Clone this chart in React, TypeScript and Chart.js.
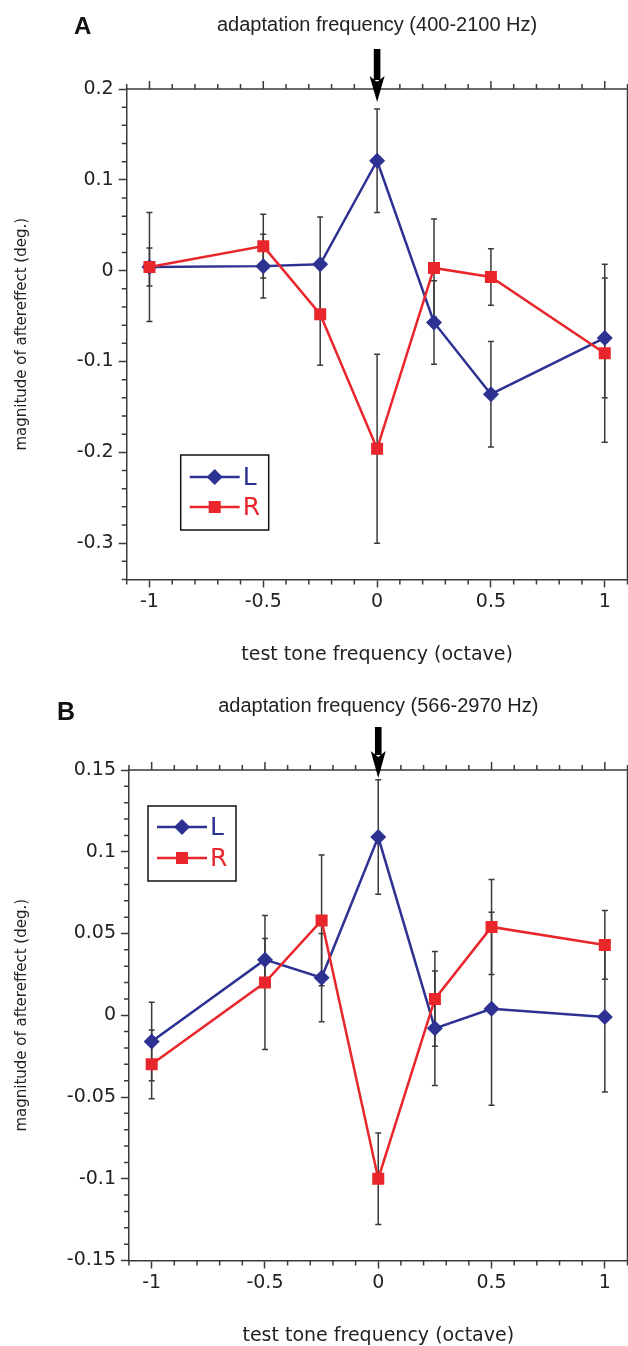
import React, { useEffect, useRef } from "react";
import { Chart, registerables } from "chart.js";

Chart.register(...registerables);

// ---------------- data ----------------
const testOctaves = [-1, -0.5, -0.25, 0, 0.25, 0.5, 1];
const xTickValues = [-1, -0.5, 0, 0.5, 1];
const seriesNames = ["L", "R"];
const xAxisLabel = "test tone frequency (octave)";
const yAxisLabel = "magnitude of aftereffect (deg.)";

const panelATitle = "adaptation frequency (400-2100 Hz)";
const panelALeft = [0.004, 0.005, 0.007, 0.121, -0.057, -0.136, -0.074];
const panelALeftErr = [0.06, 0.035, 0.052, 0.057, 0.046, 0.058, 0.066];
const panelARight = [0.004, 0.027, -0.048, -0.196, 0.003, -0.007, -0.091];
const panelARightErr = [0.021, 0.035, 0.056, 0.104, 0.054, 0.031, 0.098];
const panelAYTicks = [-0.3, -0.2, -0.1, 0, 0.1, 0.2];

const panelBTitle = "adaptation frequency (566-2970 Hz)";
const panelBLeft = [-0.016, 0.034, 0.023, 0.109, -0.008, 0.004, -0.001];
const panelBLeftErr = [0.024, 0.013, 0.027, 0.035, 0.035, 0.059, 0.046];
const panelBRight = [-0.03, 0.02, 0.058, -0.1, 0.01, 0.054, 0.043];
const panelBRightErr = [0.021, 0.041, 0.04, 0.028, 0.029, 0.029, 0.021];
const panelBYTicks = [-0.15, -0.1, -0.05, 0, 0.05, 0.1, 0.15];

// ---------------- styles ----------------
const BLUE = "#2c3192";
const RED = "#e8262b";
const AXIS = "#3a3a3a";
const TEXT = "#222";
const TICK_FONT = { family: "DejaVu Sans", size: 19 };
const CANVAS_W = 636;
const CANVAS_H = 670;

function drawMarker(ctx, style, x, y, r, color) {
  ctx.save();
  ctx.fillStyle = color;
  ctx.beginPath();
  if (style === "rectRot") {
    ctx.moveTo(x, y - r);
    ctx.lineTo(x + r, y);
    ctx.lineTo(x, y + r);
    ctx.lineTo(x - r, y);
    ctx.closePath();
  } else {
    const h = r * Math.SQRT1_2;
    ctx.rect(x - h, y - h, 2 * h, 2 * h);
  }
  ctx.fill();
  ctx.restore();
}

const decorPlugin = {
  id: "decor",
  beforeDatasetsDraw(chart, _args, opts) {
    const { ctx } = chart;
    const x = chart.scales.x;
    const y = chart.scales.y;
    ctx.save();
    ctx.strokeStyle = AXIS;
    ctx.lineWidth = 1.5;
    chart.data.datasets.forEach((ds, i) => {
      const errs = opts.errors[i];
      ds.data.forEach((pt, j) => {
        const px = x.getPixelForValue(pt.x);
        const y1 = y.getPixelForValue(pt.y + errs[j]);
        const y2 = y.getPixelForValue(pt.y - errs[j]);
        ctx.beginPath();
        ctx.moveTo(px, y1);
        ctx.lineTo(px, y2);
        ctx.moveTo(px - 3, y1);
        ctx.lineTo(px + 3, y1);
        ctx.moveTo(px - 3, y2);
        ctx.lineTo(px + 3, y2);
        ctx.stroke();
      });
    });
    ctx.restore();
  },
  afterDraw(chart, _args, opts) {
    const { ctx, chartArea: ca } = chart;
    const x = chart.scales.x;
    const y = chart.scales.y;
    ctx.save();
    ctx.strokeStyle = AXIS;
    ctx.lineWidth = 1.5;
    // top + right frame
    ctx.beginPath();
    ctx.moveTo(ca.left, ca.top);
    ctx.lineTo(ca.right, ca.top);
    ctx.lineTo(ca.right, ca.bottom);
    ctx.stroke();

    const isMajor = (v, majors) => majors.some((m) => Math.abs(m - v) < 1e-9);
    const xs = opts.xMinor;
    for (let i = Math.ceil(x.min / xs - 1e-9); i <= Math.floor(x.max / xs + 1e-9); i++) {
      const v = i * xs;
      const px = x.getPixelForValue(v);
      const major = isMajor(v, xTickValues);
      ctx.beginPath();
      if (!major) {
        ctx.moveTo(px, ca.bottom);
        ctx.lineTo(px, ca.bottom + 5);
      }
      ctx.moveTo(px, ca.top);
      ctx.lineTo(px, ca.top - (major ? 8 : 5));
      ctx.stroke();
    }
    const ys = opts.yMinor;
    for (let i = Math.ceil(y.min / ys - 1e-9); i <= Math.floor(y.max / ys + 1e-9); i++) {
      const v = i * ys;
      const py = y.getPixelForValue(v);
      const major = isMajor(v, opts.yMajor);
      ctx.beginPath();
      if (!major) {
        ctx.moveTo(ca.left, py);
        ctx.lineTo(ca.left - 5, py);
      }
      ctx.moveTo(ca.right, py);
      ctx.lineTo(ca.right + (major ? 8 : 5), py);
      ctx.stroke();
    }
    ctx.restore();

    // legend box
    const lg = opts.legend;
    const lx = ca.left + lg.dx;
    const ly = ca.top + lg.dy;
    ctx.save();
    ctx.fillStyle = "#fff";
    ctx.fillRect(lx, ly, lg.w, lg.h);
    ctx.strokeStyle = "#111";
    ctx.lineWidth = 1.5;
    ctx.strokeRect(lx, ly, lg.w, lg.h);
    chart.data.datasets.forEach((ds, i) => {
      const ry = ly + lg.rowTop + i * lg.rowGap;
      ctx.strokeStyle = ds.borderColor;
      ctx.lineWidth = 2.5;
      ctx.beginPath();
      ctx.moveTo(lx + 9, ry);
      ctx.lineTo(lx + 59, ry);
      ctx.stroke();
      drawMarker(ctx, ds.pointStyle, lx + 34, ry, ds.pointRadius, ds.borderColor);
      ctx.fillStyle = ds.borderColor;
      ctx.font = "25px 'DejaVu Sans'";
      ctx.textBaseline = "middle";
      ctx.textAlign = "left";
      ctx.fillText(ds.label, lx + 62, ry + 1);
    });
    ctx.restore();

    // arrow at adaptation frequency
    const ax = x.getPixelForValue(opts.arrowAt);
    const a = opts.arrow;
    ctx.save();
    ctx.fillStyle = "#000";
    ctx.fillRect(ax - 3.3, a.top, 6.6, a.headTop - a.top + 4);
    ctx.beginPath();
    ctx.moveTo(ax - 7.5, a.headTop);
    ctx.lineTo(ax, a.headTop + 6);
    ctx.lineTo(ax + 7.5, a.headTop);
    ctx.lineTo(ax, a.tip);
    ctx.closePath();
    ctx.fill();
    ctx.restore();
  },
};

function Panel({ title, left, leftErr, right, rightErr, yTicks, yMin, yMax, yMinor, yWidth, legend, arrow }) {
  const ref = useRef(null);
  useEffect(() => {
    const datasets = [
      {
        label: seriesNames[0],
        data: testOctaves.map((xv, i) => ({ x: xv, y: left[i] })),
        borderColor: BLUE,
        backgroundColor: BLUE,
        pointBackgroundColor: BLUE,
        pointBorderColor: BLUE,
        pointBorderWidth: 0,
        pointStyle: "rectRot",
        pointRadius: 8,
        borderWidth: 2.5,
        tension: 0,
        order: 1,
      },
      {
        label: seriesNames[1],
        data: testOctaves.map((xv, i) => ({ x: xv, y: right[i] })),
        borderColor: RED,
        backgroundColor: RED,
        pointBackgroundColor: RED,
        pointBorderColor: RED,
        pointBorderWidth: 0,
        pointStyle: "rect",
        pointRadius: 8.5,
        borderWidth: 2.5,
        tension: 0,
        order: 0,
      },
    ];
    const chart = new Chart(ref.current, {
      type: "line",
      data: { datasets },
      plugins: [decorPlugin],
      options: {
        animation: false,
        responsive: false,
        maintainAspectRatio: false,
        devicePixelRatio: 1,
        layout: { padding: { left: 0, right: 1, top: 0, bottom: 0 } },
        plugins: {
          legend: { display: false },
          tooltip: { enabled: false },
          title: {
            display: true,
            text: title,
            fullSize: false,
            color: TEXT,
            font: { family: "Liberation Sans", size: 20, weight: "normal", lineHeight: 1.2 },
            padding: { top: 13, bottom: 52 },
          },
          decor: {
            errors: [leftErr, rightErr],
            xMinor: 0.1,
            yMinor,
            yMajor: yTicks,
            legend,
            arrowAt: 0,
            arrow,
          },
        },
        scales: {
          x: {
            type: "linear",
            min: -1.1,
            max: 1.1,
            afterBuildTicks: (s) => {
              s.ticks = xTickValues.map((v) => ({ value: v }));
            },
            afterFit: (s) => {
              s.height = 90.5;
            },
            grid: { display: true, drawOnChartArea: false, drawTicks: true, tickLength: 8, tickColor: AXIS, tickWidth: 1.5 },
            border: { display: true, color: AXIS, width: 1.5 },
            ticks: { font: TICK_FONT, color: TEXT, padding: 3, maxRotation: 0, callback: (v) => String(v) },
            title: {
              display: true,
              text: xAxisLabel,
              color: TEXT,
              font: { family: "DejaVu Sans", size: 19, lineHeight: 1.2 },
              padding: { top: 0, bottom: 3.6 },
            },
          },
          y: {
            type: "linear",
            min: yMin,
            max: yMax,
            afterBuildTicks: (s) => {
              s.ticks = yTicks.map((v) => ({ value: v }));
            },
            afterFit: (s) => {
              s.width = yWidth;
            },
            grid: { display: true, drawOnChartArea: false, drawTicks: true, tickLength: 8, tickColor: AXIS, tickWidth: 1.5 },
            border: { display: true, color: AXIS, width: 1.5 },
            ticks: { font: TICK_FONT, color: TEXT, padding: 5, callback: (v) => String(v) },
            title: {
              display: true,
              text: yAxisLabel,
              color: TEXT,
              font: { family: "DejaVu Sans", size: 15, lineHeight: 1.2 },
              padding: { top: 13, bottom: 0 },
            },
          },
        },
      },
    });
    return () => chart.destroy();
  }, []);
  return <canvas ref={ref} width={CANVAS_W} height={CANVAS_H} style={{ display: "block" }} />;
}

export default function App() {
  return (
    <div
      style={{
        position: "absolute",
        top: 0,
        left: 0,
        width: 628,
        height: 1346,
        overflow: "hidden",
        background: "#fff",
      }}
    >
      <div style={{ position: "absolute", top: 0, left: 0 }}>
        <Panel
          title={panelATitle}
          left={panelALeft}
          leftErr={panelALeftErr}
          right={panelARight}
          rightErr={panelARightErr}
          yTicks={panelAYTicks}
          yMin={-0.34}
          yMax={0.2}
          yMinor={0.02}
          yWidth={126.7}
          legend={{ dx: 54, dy: 366, w: 88, h: 75, rowTop: 22, rowGap: 30 }}
          arrow={{ top: 49, headTop: 76, tip: 102 }}
        />
      </div>
      <div style={{ position: "absolute", top: 681, left: 0 }}>
        <Panel
          title={panelBTitle}
          left={panelBLeft}
          leftErr={panelBLeftErr}
          right={panelBRight}
          rightErr={panelBRightErr}
          yTicks={panelBYTicks}
          yMin={-0.15}
          yMax={0.15}
          yMinor={0.01}
          yWidth={129}
          legend={{ dx: 19, dy: 36, w: 88, h: 75, rowTop: 21, rowGap: 31 }}
          arrow={{ top: 46, headTop: 70, tip: 97 }}
        />
      </div>
      <div
        style={{
          position: "absolute",
          left: 74,
          top: 12,
          fontFamily: "'Liberation Sans', Arial, sans-serif",
          fontWeight: "bold",
          fontSize: 24,
          lineHeight: "28px",
          color: "#111",
        }}
      >
        A
      </div>
      <div
        style={{
          position: "absolute",
          left: 57,
          top: 696,
          fontFamily: "'Liberation Sans', Arial, sans-serif",
          fontWeight: "bold",
          fontSize: 25,
          lineHeight: "30px",
          color: "#111",
        }}
      >
        B
      </div>
    </div>
  );
}
